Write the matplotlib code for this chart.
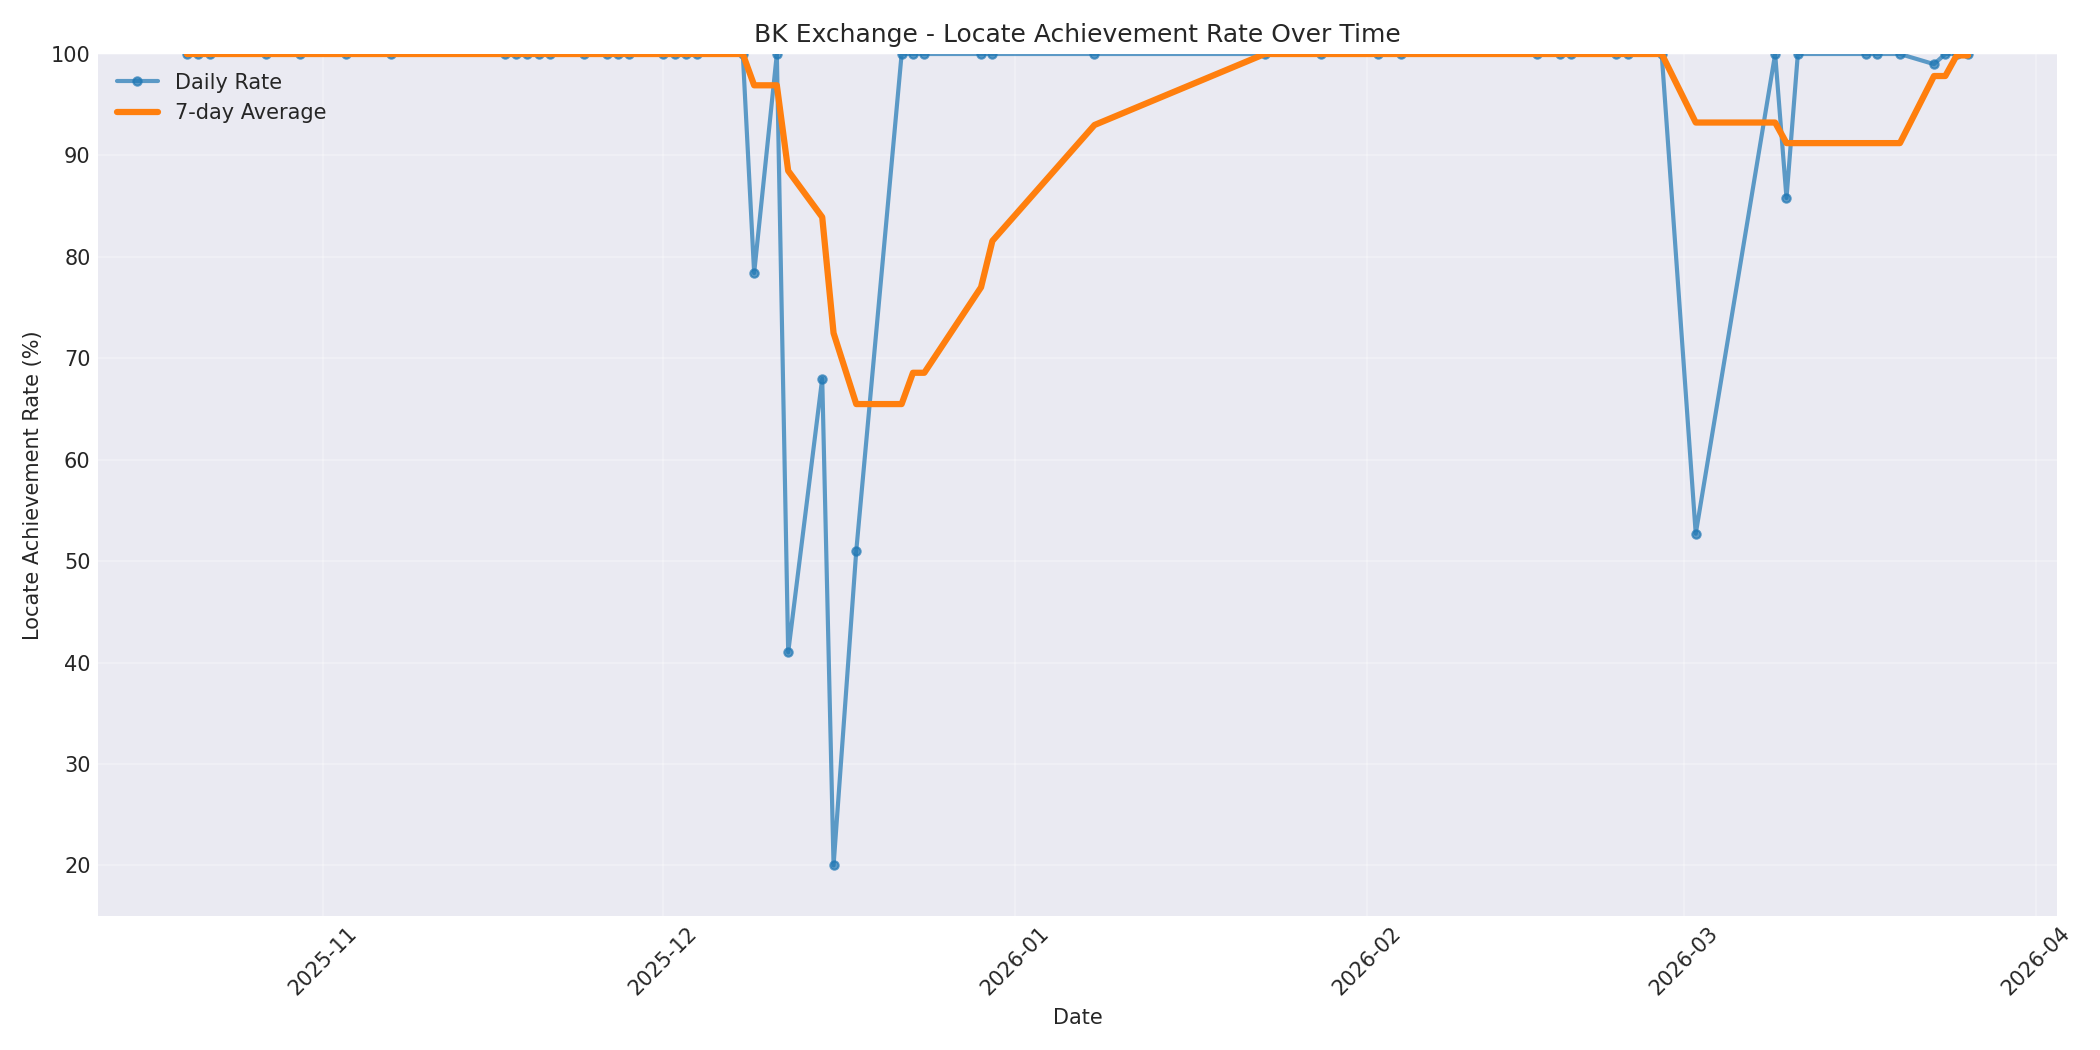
import matplotlib
matplotlib.use("Agg")
import matplotlib.pyplot as plt
import matplotlib.dates as mdates
import pandas as pd

# Daily locate achievement rate (%)
dates = [
    "2025-10-20", "2025-10-21", "2025-10-22", "2025-10-27", "2025-10-30",
    "2025-11-03", "2025-11-07", "2025-11-17", "2025-11-18", "2025-11-19",
    "2025-11-20", "2025-11-21", "2025-11-24", "2025-11-26", "2025-11-27",
    "2025-11-28", "2025-12-01", "2025-12-02", "2025-12-03", "2025-12-04",
    "2025-12-08", "2025-12-09", "2025-12-11", "2025-12-12", "2025-12-15",
    "2025-12-16", "2025-12-18", "2025-12-22", "2025-12-23", "2025-12-24",
    "2025-12-29", "2025-12-30", "2026-01-08", "2026-01-23", "2026-01-28",
    "2026-02-02", "2026-02-04", "2026-02-16", "2026-02-18", "2026-02-19",
    "2026-02-23", "2026-02-24", "2026-02-27", "2026-03-02", "2026-03-09",
    "2026-03-10", "2026-03-11", "2026-03-17", "2026-03-18", "2026-03-20",
    "2026-03-23", "2026-03-24", "2026-03-25", "2026-03-26",
]
daily_rate = [
    100, 100, 100, 100, 100,
    100, 100, 100, 100, 100,
    100, 100, 100, 100, 100,
    100, 100, 100, 100, 100,
    100, 78.4, 100, 41.0, 68.0,
    20.0, 51.0, 100, 100, 100,
    100, 100, 100, 100, 100,
    100, 100, 100, 100, 100,
    100, 100, 100, 52.7, 100,
    85.8, 100, 100, 100, 100,
    99.0, 100, 100, 100,
]

df = pd.DataFrame({"date": pd.to_datetime(dates), "rate": daily_rate})
df["rolling"] = df["rate"].rolling(window=7, min_periods=1).mean()

plt.style.use("seaborn-v0_8-darkgrid")
plt.rcParams["font.family"] = ["DejaVu Sans"]
fig, ax = plt.subplots(figsize=(14, 7), dpi=150)

ax.plot(df["date"], df["rate"], marker="o", markersize=4, linewidth=2,
        alpha=0.7, label="Daily Rate")
ax.plot(df["date"], df["rolling"], linewidth=3, label="7-day Average")

ax.set_title("BK Exchange - Locate Achievement Rate Over Time")
ax.set_xlabel("Date")
ax.set_ylabel("Locate Achievement Rate (%)")
ax.set_ylim(15, 100)
ax.xaxis.set_major_locator(mdates.MonthLocator())
ax.xaxis.set_major_formatter(mdates.DateFormatter("%Y-%m"))
ax.tick_params(axis="x", rotation=45)
ax.grid(True, alpha=0.3)
ax.legend(loc="upper left")

plt.tight_layout()
plt.savefig("out.png", dpi=150)
